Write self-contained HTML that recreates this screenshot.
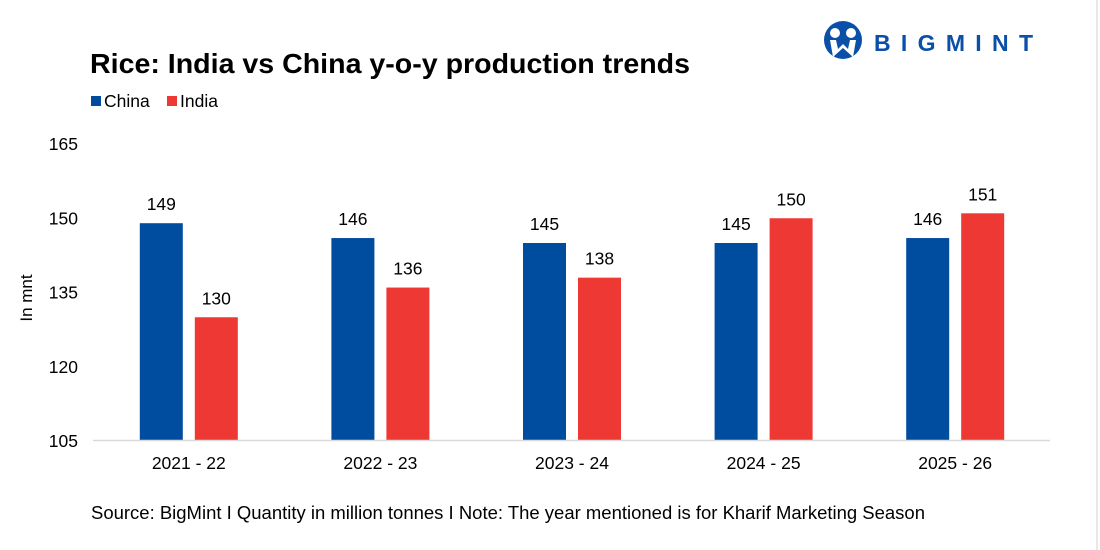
<!DOCTYPE html>
<html><head><meta charset="utf-8"><style>
body{margin:0;background:#fff;}
#wrap{position:relative;width:1100px;height:550px;overflow:hidden;font-family:"Liberation Sans",Arial,sans-serif;}
</style></head><body>
<div id="wrap">
<svg id="chart" width="1100" height="550">
  <line x1="1097" y1="0" x2="1097" y2="550" stroke="#d0d0d0"/>
  <text x="90" y="73" font-size="28" font-weight="bold" fill="#000" textLength="600" lengthAdjust="spacingAndGlyphs">Rice: India vs China y-o-y production trends</text>
  <rect x="91" y="96" width="10" height="10" fill="#004C9E"/>
  <text x="104" y="107" font-size="17.5" fill="#000">China</text>
  <rect x="167" y="96" width="10" height="10" fill="#EE3833"/>
  <text x="180" y="107" font-size="17.5" fill="#000">India</text>
  <g>
    <circle cx="843" cy="40" r="19" fill="#0a4fa8"/>
    <circle cx="835" cy="33" r="5" fill="#fff"/>
    <circle cx="851" cy="33" r="5" fill="#fff"/>
    <path d="M830 40 L833 57 L843 48 L853 57 L856 40 L850 40 L848 49 L843 44 L838 49 L836 40 Z" fill="#fff"/>
    <text x="874" y="51" font-size="23" font-weight="bold" fill="#0a4fa8" textLength="159" lengthAdjust="spacing">BIGMINT</text>
  </g>
  <text transform="translate(32,298) rotate(-90)" text-anchor="middle" font-size="17" fill="#000">In mnt</text>
  <g id="yticks"></g>
  <g id="bars"></g>
  <line x1="93" y1="440.5" x2="1050" y2="440.5" stroke="#d9d9d9" stroke-width="1.5"/>
  <text x="91" y="519" font-size="18" fill="#000" textLength="834" lengthAdjust="spacingAndGlyphs">Source: BigMint I Quantity in million tonnes I Note: The year mentioned is for Kharif Marketing Season</text>
</svg>
</div>
<script>
const categories = ["2021 - 22","2022 - 23","2023 - 24","2024 - 25","2025 - 26"];
const chinaValues = [149,146,145,145,146];
const indiaValues = [130,136,138,150,151];
const yTicks = [105,120,135,150,165];

const NS="http://www.w3.org/2000/svg";
const yMin=105,yMax=165,yTop=144,yBot=441;
function y(v){return yBot-(v-yMin)/(yMax-yMin)*(yBot-yTop);}
const x0=93,x1=1051,step=(x1-x0)/categories.length;
function xc(i){return x0+step*(i+0.5);}
function mk(tag,attrs,parent){const e=document.createElementNS(NS,tag);for(const k in attrs)e.setAttribute(k,attrs[k]);parent.appendChild(e);return e;}
const yt=document.getElementById('yticks');
yTicks.forEach(t=>{
  const e=mk('text',{x:78,y:y(t)+6,'text-anchor':'end','font-size':17.5,fill:'#000'},yt);
  
  
  e.textContent=t;
});
const g=document.getElementById('bars');
const bw=43,gap=12;
categories.forEach((c,i)=>{
  const cx=xc(i);
  const series=[[chinaValues[i],'#004C9E',cx-gap/2-bw,'bar-china'],[indiaValues[i],'#EE3833',cx+gap/2,'bar-india']];
  series.forEach(s=>{
    const r=mk('rect',{x:s[2],y:y(s[0]),width:bw,height:yBot-y(s[0]),fill:s[1]},g);
    
    
    const l=mk('text',{x:s[2]+bw/2,y:y(s[0])-13,'text-anchor':'middle','font-size':17.5,fill:'#000'},g);
    
    
    l.textContent=s[0];
  });
  const t=mk('text',{x:cx,y:469,'text-anchor':'middle','font-size':17.5,fill:'#000'},g);
  
  
  t.textContent=c;
});
</script>
</body></html>
